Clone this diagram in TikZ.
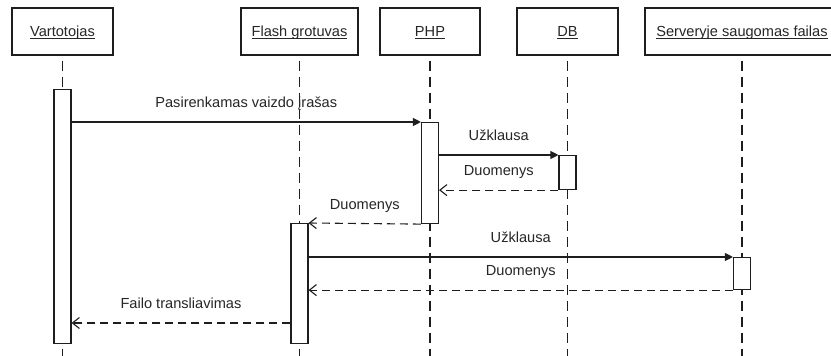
\documentclass[tikz,border=0pt]{standalone}
\usepackage{fontspec}
\setmainfont{Liberation Sans}
\usetikzlibrary{arrows.meta}
\definecolor{ink}{HTML}{1E1E1E}
\definecolor{txt}{HTML}{262626}
% underline that sits just under the baseline
\newcommand{\headul}[1]{\setbox0\hbox{#1}\rlap{\rule[-1.8pt]{\wd0}{0.9pt}}\box0}
\tikzset{
  head/.style={draw=ink, line width=1.2pt, fill=white, minimum height=47pt,
    inner sep=0pt, text height=10.5pt, text depth=0pt, text=txt,
    font=\fontsize{14.6}{17}\selectfont},
  life/.style={draw=ink, line width=1.1pt, dash pattern=on 10pt off 6pt, dash phase=-5pt},
  act/.style={draw=ink, line width=1.1pt, fill=white, minimum width=17pt, inner sep=0pt, anchor=north},
  sync/.style={draw=ink, line width=1.1pt, -{Triangle[length=8pt,width=8pt]}},
  reply/.style={draw=ink, line width=1.1pt, dash pattern=on 8pt off 5pt, -{Straight Barb[length=7pt,width=11pt]}},
  lbl/.style={midway, anchor=base, yshift=14.5pt, text=txt, inner sep=0pt,
    font=\fontsize{14.6}{17}\selectfont},
}
\begin{document}
\begin{tikzpicture}[x=1pt,y=-1pt]
\clip (0,0) rectangle (831,356);
\fill[white] (0,0) rectangle (831,356);

% object heads
\node[head, minimum width=101pt] (va) at (62.5,31.5) {\headul{Vartotojas}};
\node[head, minimum width=117pt] (fl) at (299.5,31.5) {\headul{Flash grotuvas}};
\node[head, minimum width=100pt] (php) at (430,31.5) {\headul{PHP}};
\node[head, minimum width=101pt] (db) at (567.5,31.5) {\headul{DB}};
\node[head, minimum width=194pt] (sv) at (742,31.5) {\headul{Serveryje saugomas failas}};

% lifelines
\coordinate (bottom) at (0,360);
\foreach \o in {va,fl,php,db,sv}
  \draw[life] (\o.south) -- (\o.south |- bottom);

% activation bars
\node[act, minimum height=254pt] (vaAct) at (va.south |- 0,89) {};
\node[act, minimum height=101pt] (phpAct) at (php.south |- 0,122) {};
\node[act, minimum height=34pt] (dbAct) at (db.south |- 0,155) {};
\node[act, minimum height=120pt] (flAct) at (fl.south |- 0,223) {};
\node[act, minimum height=32pt] (svAct) at (sv.south |- 0,257) {};

% messages
\draw[sync] (vaAct.east |- phpAct.north) -- (phpAct.north west)
  node[lbl] {Pasirenkamas vaizdo įrašas};
\draw[sync] (phpAct.east |- dbAct.north) -- (dbAct.north west)
  node[lbl] {Užklausa};
\draw[reply] (dbAct.south west) -- (phpAct.east |- dbAct.south)
  node[lbl] {Duomenys};
\draw[reply] (phpAct.south west) -- (flAct.north east)
  node[lbl] {Duomenys};
\draw[sync] (flAct.east |- svAct.north) -- (svAct.north west)
  node[lbl] {Užklausa};
\draw[reply] (svAct.south west) -- (flAct.east |- svAct.south)
  node[lbl] {Duomenys};
\coordinate (m7) at (0,323);
\draw[reply] (flAct.west |- m7) -- (vaAct.east |- m7)
  node[lbl] {Failo transliavimas};
\end{tikzpicture}
\end{document}
